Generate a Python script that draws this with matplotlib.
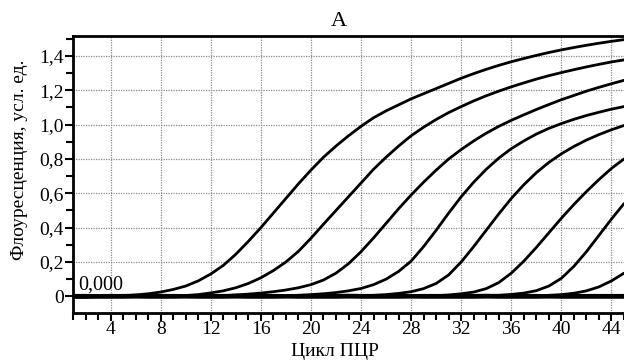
import matplotlib
matplotlib.use("Agg")
import matplotlib.pyplot as plt
from matplotlib.ticker import FixedLocator, MultipleLocator, FixedFormatter

plt.rcParams['font.family'] = ['Liberation Serif', 'DejaVu Serif']

cycles = list(range(1, 46))

curve1 = [0.000, 0.000, 0.000, 0.000, 0.003, 0.008, 0.015, 0.025, 0.040, 0.060,
          0.090, 0.130, 0.180, 0.245, 0.320, 0.400, 0.485, 0.570, 0.655, 0.735,
          0.810, 0.875, 0.935, 0.990, 1.040, 1.080, 1.115, 1.150, 1.180, 1.210,
          1.240, 1.270, 1.297, 1.322, 1.345, 1.366, 1.385, 1.403, 1.420, 1.435,
          1.449, 1.462, 1.474, 1.485, 1.495]
curve2 = [0.000, 0.000, 0.000, 0.000, 0.000, 0.000, 0.000, 0.000, 0.000, 0.005,
          0.010, 0.020, 0.032, 0.050, 0.075, 0.108, 0.150, 0.200, 0.262, 0.338,
          0.420, 0.500, 0.580, 0.660, 0.740, 0.810, 0.875, 0.935, 0.985, 1.030,
          1.070, 1.105, 1.138, 1.168, 1.195, 1.220, 1.243, 1.265, 1.285, 1.303,
          1.320, 1.336, 1.351, 1.365, 1.377]
curve3 = [0.000, 0.000, 0.000, 0.000, 0.000, 0.000, 0.000, 0.000, 0.000, 0.000,
          0.000, 0.000, 0.004, 0.008, 0.013, 0.019, 0.027, 0.037, 0.050, 0.068,
          0.095, 0.135, 0.190, 0.260, 0.340, 0.425, 0.510, 0.590, 0.665, 0.735,
          0.800, 0.855, 0.905, 0.950, 0.990, 1.025, 1.057, 1.088, 1.117, 1.145,
          1.170, 1.195, 1.217, 1.238, 1.258]
curve4 = [0.000, 0.000, 0.000, 0.000, 0.000, 0.000, 0.000, 0.000, 0.000, 0.000,
          0.000, 0.000, 0.000, 0.000, 0.000, 0.000, 0.000, 0.003, 0.006, 0.010,
          0.015, 0.022, 0.032, 0.046, 0.068, 0.100, 0.145, 0.205, 0.290, 0.385,
          0.485, 0.580, 0.665, 0.740, 0.805, 0.860, 0.905, 0.945, 0.978, 1.006,
          1.031, 1.053, 1.072, 1.090, 1.105]
curve5 = [0.000, 0.000, 0.000, 0.000, 0.000, 0.000, 0.000, 0.000, 0.000, 0.000,
          0.000, 0.000, 0.000, 0.000, 0.000, 0.000, 0.000, 0.000, 0.000, 0.000,
          0.000, 0.000, 0.000, 0.003, 0.006, 0.010, 0.017, 0.027, 0.045, 0.075,
          0.125, 0.200, 0.290, 0.385, 0.480, 0.570, 0.650, 0.720, 0.780, 0.830,
          0.873, 0.910, 0.942, 0.970, 0.995]
curve6 = [0.000, 0.000, 0.000, 0.000, 0.000, 0.000, 0.000, 0.000, 0.000, 0.000,
          0.000, 0.000, 0.000, 0.000, 0.000, 0.000, 0.000, 0.000, 0.000, 0.000,
          0.000, 0.000, 0.000, 0.000, 0.000, 0.000, 0.000, 0.000, 0.000, 0.004,
          0.008, 0.015, 0.025, 0.045, 0.080, 0.135, 0.205, 0.285, 0.370, 0.455,
          0.535, 0.610, 0.680, 0.745, 0.800]
curve7 = [0.000, 0.000, 0.000, 0.000, 0.000, 0.000, 0.000, 0.000, 0.000, 0.000,
          0.000, 0.000, 0.000, 0.000, 0.000, 0.000, 0.000, 0.000, 0.000, 0.000,
          0.000, 0.000, 0.000, 0.000, 0.000, 0.000, 0.000, 0.000, 0.000, 0.000,
          0.000, 0.000, 0.000, 0.003, 0.006, 0.011, 0.019, 0.033, 0.060, 0.105,
          0.175, 0.260, 0.355, 0.450, 0.540]
curve8 = [0.000, 0.000, 0.000, 0.000, 0.000, 0.000, 0.000, 0.000, 0.000, 0.000,
          0.000, 0.000, 0.000, 0.000, 0.000, 0.000, 0.000, 0.000, 0.000, 0.000,
          0.000, 0.000, 0.000, 0.000, 0.000, 0.000, 0.000, 0.000, 0.000, 0.000,
          0.000, 0.000, 0.000, 0.000, 0.000, 0.000, 0.000, 0.003, 0.006, 0.010,
          0.018, 0.032, 0.055, 0.090, 0.135]
# negative controls (flat near zero)
neg_a = [0.006, 0.006, 0.005, 0.006, 0.006, 0.007, 0.006, 0.006, 0.006, 0.005,
         0.006, 0.006, 0.006, 0.007, 0.006, 0.006, 0.006, 0.005, 0.006, 0.006,
         0.006, 0.006, 0.007, 0.006, 0.006, 0.006, 0.006, 0.005, 0.006, 0.006,
         0.006, 0.006, 0.006, 0.007, 0.006, 0.006, 0.006, 0.006, 0.005, 0.006,
         0.006, 0.006, 0.006, 0.006, 0.006]
neg_b = [-0.007, -0.007, -0.006, -0.006, -0.006, -0.005, -0.006, -0.006, -0.006, -0.005,
         -0.006, -0.006, -0.006, -0.005, -0.006, -0.006, -0.006, -0.005, -0.006, -0.006,
         -0.006, -0.006, -0.005, -0.006, -0.006, -0.006, -0.006, -0.005, -0.006, -0.006,
         -0.006, -0.006, -0.006, -0.005, -0.006, -0.006, -0.006, -0.006, -0.005, -0.006,
         -0.006, -0.006, -0.006, -0.006, -0.006]

series = [curve1, curve2, curve3, curve4, curve5, curve6, curve7, curve8, neg_a, neg_b]

xticks = [4, 8, 12, 16, 20, 24, 28, 32, 36, 40, 44]
xtick_labels = ["4", "8", "12", "16", "20", "24", "28", "32", "36", "40", "44"]
yticks = [0.0, 0.2, 0.4, 0.6, 0.8, 1.0, 1.2, 1.4]
ytick_labels = ["0", "0,2", "0,4", "0,6", "0,8", "1,0", "1,2", "1,4"]

title = "А"
xlabel = "Цикл ПЦР"
ylabel = "Флоуресценция, усл. ед."
baseline_note = "0,000"

W, H = 624, 361
fig = plt.figure(figsize=(W / 100, H / 100), dpi=100)
ax = fig.add_axes([73 / W, 1 - 313 / H, (624 - 73) / W, (313 - 36) / H])

for s in series:
    ax.plot(cycles, s, color="black", lw=2.0, solid_joinstyle="round",
            solid_capstyle="round", zorder=3, clip_on=True)

ax.set_xlim(1, 45)
ax.set_ylim(-0.097, 1.516)

ax.xaxis.set_major_locator(FixedLocator(xticks))
ax.xaxis.set_major_formatter(FixedFormatter(xtick_labels))
ax.xaxis.set_minor_locator(MultipleLocator(1))
ax.yaxis.set_major_locator(FixedLocator(yticks))
ax.yaxis.set_major_formatter(FixedFormatter(ytick_labels))
ax.yaxis.set_minor_locator(MultipleLocator(0.1))

ax.grid(True, which="major", color="#8a8a8a", linestyle=(0, (1, 1)), linewidth=0.9, zorder=1)
ax.set_axisbelow(True)

ax.tick_params(axis="both", which="both", direction="out", width=1.5, color="black",
               labelsize=14, top=False, right=False)
ax.tick_params(axis="both", which="major", length=6, pad=0.5)
ax.tick_params(axis="both", which="minor", length=5)
ax.tick_params(axis="x", which="major", pad=0)

for side in ["left", "bottom", "top"]:
    ax.spines[side].set_linewidth(2.0)
    ax.spines[side].set_color("black")
ax.spines["right"].set_visible(False)

ax.text(1.45, 0.012, baseline_note, fontsize=14.5, ha="left", va="bottom", zorder=4)

fig.text(339 / W, 1 - 22 / H, title, fontsize=16, ha="center", va="center")
fig.text(335 / W, 1 - 356 / H, xlabel, fontsize=14, ha="center", va="baseline")
fig.text(20 / W, 1 - 160 / H, ylabel, fontsize=14, ha="center", va="center", rotation=90)

fig.savefig("out.png", dpi=100)
